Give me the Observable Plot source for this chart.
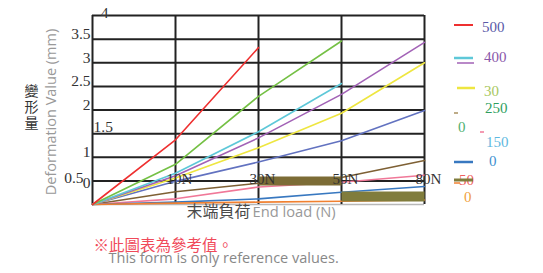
<!DOCTYPE html>
<html>
<head>
<meta charset="utf-8">
<script src="https://cdn.jsdelivr.net/npm/d3@7"></script>
<script src="https://cdn.jsdelivr.net/npm/@observablehq/plot@0.6"></script>
<style>
  html, body { margin: 0; padding: 0; background: #fff; }
  #chart { position: relative; width: 543px; height: 273px; }
</style>
</head>
<body>
<div id="chart"></div>
<script>
// ---- data ----
const xCats = ["0", "10N", "30N", "50N", "80N"];
const xLabels = ["10N", "30N", "50N", "80N"];
const yGrid = [0.5, 1, 1.5, 2, 2.5, 3, 3.5, 4];
const yLabelsMain = ["3.5", "3", "2.5", "2", "1"];
const yTitleChars = ["變", "形", "量"];

const redVals    = [0, 1.37, 3.32];
const greenVals  = [0, 0.85, 2.29, 3.46];
const cyanVals   = [0, 0.66, 1.54, 2.56];
const purpleVals = [0, 0.61, 1.41, 2.33, 3.43];
const yellowVals = [0, 0.56, 1.2, 1.93, 3.0];
const slateVals  = [0, 0.49, 0.9, 1.35, 1.99];
const brownVals  = [0, 0.27, 0.45, 0.57, 0.93];
const pinkVals   = [0, 0.12, 0.37, 0.47, 0.62];
const blueVals   = [0, 0.05, 0.12, 0.26, 0.38];
const orangeVals = [0, 0.03, 0.05, 0.07, 0.095];
const oliveA = [["30N", 0.5], ["50N", 0.5]];
const oliveB = [["50N", 0.17], ["80N", 0.17]];

const legendLabels = ["500", "400", "30", "250", "0", "150", "0", "50", "0"];

const seriesList = [
  ["brown", brownVals, "#7e6034"],
  ["pink", pinkVals, "#f07898"],
  ["blue", blueVals, "#3878c0"],
  ["orange", orangeVals, "#f08030"],
  ["slate", slateVals, "#6272c0"],
  ["yellow", yellowVals, "#eee640"],
  ["purple", purpleVals, "#a262b6"],
  ["cyan", cyanVals, "#5ec8d8"],
  ["green", greenVals, "#74c044"],
  ["red", redVals, "#ee3030"]
];
const rows = [];
for (const [name, vals] of seriesList) vals.forEach((v, i) => rows.push({series: name, x: xCats[i], y: v}));
const oliveRows = [
  ...oliveA.map(([x, y]) => ({seg: "a", x, y})),
  ...oliveB.map(([x, y]) => ({seg: "b", x, y}))
];

const serif = "'Liberation Serif', 'DejaVu Serif', serif";
const sans = "'Open Sans', 'Noto Sans', sans-serif";
const cjk = "'Noto Sans CJK TC', 'Noto Sans CJK SC', sans-serif";

const svg = Plot.plot({
  width: 543,
  height: 273,
  marginLeft: 92,
  marginRight: 119,
  marginTop: 15,
  marginBottom: 69,
  x: {type: "point", domain: xCats, padding: 0, axis: null},
  y: {domain: [0, 4], axis: null},
  color: {domain: seriesList.map(d => d[0]), range: seriesList.map(d => d[2])},
  style: {background: "#fff", overflow: "visible"},
  marks: [
    Plot.ruleY([0], {stroke: "#b8b8b8", strokeWidth: 1.5}),
    Plot.ruleY(yGrid, {stroke: "#222", strokeWidth: 2}),
    Plot.ruleX(xCats, {stroke: "#222", strokeWidth: 2}),
    Plot.line(rows, {x: "x", y: "y", z: "series", stroke: "series", strokeWidth: 1.6}),
    Plot.line(oliveRows.filter(d => d.seg === "a"), {x: "x", y: "y", stroke: "#7c6c36", strokeWidth: 9, strokeLinecap: "butt"}),
    Plot.line(oliveRows.filter(d => d.seg === "b"), {x: "x", y: "y", stroke: "#807c3c", strokeWidth: 10, strokeLinecap: "butt"}),
    // y tick labels
    Plot.text(yLabelsMain, {y: d => +d, text: d => d, frameAnchor: "left", textAnchor: "end", dx: -2, dy: -5, fontFamily: serif, fontSize: 15.5, fill: "#333"}),
    Plot.text(["4"], {y: d => +d, text: d => d, frameAnchor: "left", textAnchor: "middle", dx: 12, dy: -2, fontFamily: serif, fontSize: 15.5, fill: "#333"}),
    Plot.text(["1.5"], {y: d => +d, text: d => d, frameAnchor: "left", textAnchor: "start", dx: 1, dy: -7, fontFamily: serif, fontSize: 15.5, fill: "#333"}),
    Plot.text(["0.5"], {y: d => +d, text: d => d, frameAnchor: "left", textAnchor: "end", dx: -9, dy: -3, fontFamily: serif, fontSize: 15.5, fill: "#333"}),
    Plot.text(["0"], {y: d => +d, text: d => d, frameAnchor: "left", textAnchor: "end", dx: -2, dy: -21, fontFamily: serif, fontSize: 15.5, fill: "#333"}),
    // x tick labels
    Plot.text(xLabels, {x: d => d, text: d => d, frameAnchor: "bottom", textAnchor: "middle", dx: 4, dy: -21, fontFamily: serif, fontSize: 15, fill: "#333"}),
    // axis titles
    Plot.text([yTitleChars[0]], {frameAnchor: "left", textAnchor: "middle", dx: -61, dy: -18, fontFamily: cjk, fontSize: 14, fill: "#333"}),
    Plot.text([yTitleChars[1]], {frameAnchor: "left", textAnchor: "middle", dx: -61, dy: -2, fontFamily: cjk, fontSize: 14, fill: "#333"}),
    Plot.text([yTitleChars[2]], {frameAnchor: "left", textAnchor: "middle", dx: -61, dy: 14, fontFamily: cjk, fontSize: 14, fill: "#333"}),
    Plot.text(["Deformation Value (mm)"], {frameAnchor: "left", textAnchor: "middle", dx: -41, dy: 2, rotate: -90, fontFamily: sans, fontSize: 14.5, fill: "#999"}),
    Plot.text(["末端負荷"], {frameAnchor: "bottom", textAnchor: "end", dx: -8, dy: 12, fontFamily: cjk, fontSize: 16, fill: "#4a4a4a"}),
    Plot.text(["End load (N)"], {frameAnchor: "bottom", textAnchor: "start", dx: -6, dy: 12, fontFamily: sans, fontSize: 14.7, fill: "#999"}),
    // captions
    Plot.text(["※此圖表為參考值。"], {frameAnchor: "bottom-left", textAnchor: "start", dx: 1, dy: 46, fontFamily: cjk, fontSize: 15.5, fill: "#f04a5a"}),
    Plot.text(["This form is only reference values."], {frameAnchor: "bottom-left", textAnchor: "start", dx: 16, dy: 58, fontFamily: sans, fontSize: 14.5, fill: "#888"})
  ]
});
document.getElementById("chart").appendChild(svg);

// ---- legend (drawn on the same svg) ----
const g = d3.select(svg).append("g").attr("text-anchor", "start");
const swatches = [
  {x1: 454, x2: 473, y: 25, c: "#ee3030", w: 2},
  {x1: 454, x2: 473, y: 58, c: "#5ec8d8", w: 2.5},
  {x1: 457, x2: 474, y: 63, c: "#a262b6", w: 1.5},
  {x1: 457, x2: 475, y: 88, c: "#eee640", w: 2.5},
  {x1: 454, x2: 458, y: 113, c: "#a89060", w: 1.5},
  {x1: 480, x2: 484, y: 132, c: "#f07898", w: 1.5},
  {x1: 454, x2: 473, y: 162, c: "#3878c0", w: 2.5},
  {x1: 454, x2: 460, y: 183, c: "#f08030", w: 1.5}
];
const legendTexts = [
  {x: 482, y: 27, c: "#5a5aa8"},
  {x: 484, y: 57, c: "#8a58aa"},
  {x: 484, y: 91, c: "#a8c860"},
  {x: 485, y: 108, c: "#2e9e5e"},
  {x: 458, y: 127, c: "#50b070"},
  {x: 486, y: 142, c: "#60b8e0"},
  {x: 489, y: 161, c: "#4090d0"},
  {x: 459, y: 180, c: "#f06060"},
  {x: 464, y: 197, c: "#f0a040"}
];
swatches.forEach(s => g.append("line").attr("x1", s.x1).attr("x2", s.x2).attr("y1", s.y).attr("y2", s.y)
  .attr("stroke", s.c).attr("stroke-width", s.w));
legendTexts.forEach((t, i) => g.append("text").attr("x", t.x).attr("y", t.y).attr("dy", "0.35em")
  .attr("text-anchor", "start")
  .attr("fill", t.c).attr("font-family", serif).attr("font-size", 15).text(legendLabels[i]));
g.append("line").attr("x1", 454).attr("x2", 473).attr("y1", 180).attr("y2", 180)
  .attr("stroke", "#807c3c").attr("stroke-width", 3);
</script>
</body>
</html>
